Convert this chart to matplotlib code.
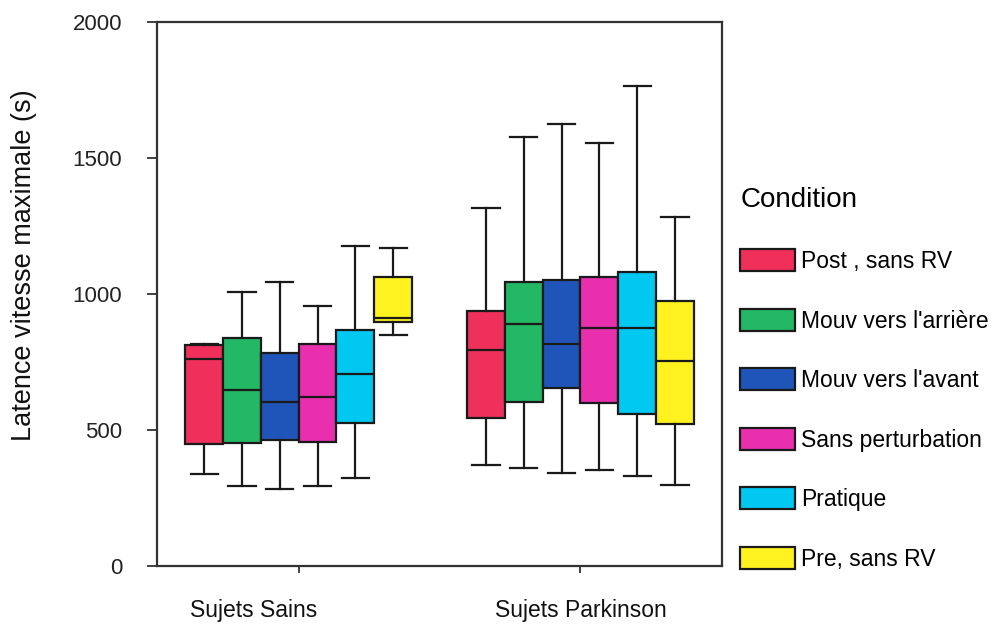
import matplotlib
matplotlib.use("Agg")
import matplotlib.pyplot as plt
import numpy as np
from matplotlib.patches import Patch

plt.rcParams['font.family'] = ['Liberation Sans', 'DejaVu Sans']

# conditions and colours
conditions = ["Post , sans RV", "Mouv vers l'arrière", "Mouv vers l'avant",
              "Sans perturbation", "Pratique", "Pre, sans RV"]
colors = ["#EF305A", "#22B865", "#1F55B8", "#E82FAE", "#00C8F0", "#FFF21E"]
groups = ["Sujets Sains", "Sujets Parkinson"]

# box stats, Sujets Sains
sains_lo = [338, 294, 283, 294, 323, 849]
sains_q1 = [448, 452, 463, 456, 526, 897]
sains_med = [761, 647, 603, 621, 706, 911]
sains_q3 = [812, 838, 783, 816, 867, 1062]
sains_hi = [818, 1007, 1044, 956, 1176, 1169]

# Sujets Parkinson
park_lo = [371, 360, 342, 353, 331, 298]
park_q1 = [544, 603, 654, 599, 559, 522]
park_med = [794, 890, 816, 875, 875, 754]
park_q3 = [937, 1044, 1051, 1062, 1081, 974]
park_hi = [1316, 1577, 1625, 1555, 1765, 1283]


def make_stats(lo, q1, med, q3, hi):
    return [dict(whislo=a, q1=b, med=c, q3=d, whishi=e, fliers=[])
            for a, b, c, d, e in zip(lo, q1, med, q3, hi)]


fig = plt.figure(figsize=(9.99, 6.27), dpi=100)
ax = fig.add_axes([0.157, 0.097, 0.566, 0.868])

starts = [1.25, 8.7]
all_stats = [make_stats(sains_lo, sains_q1, sains_med, sains_q3, sains_hi),
             make_stats(park_lo, park_q1, park_med, park_q3, park_hi)]

line_col = "#1a1a1a"
for start, stats in zip(starts, all_stats):
    pos = start + np.arange(len(stats))
    bp = ax.bxp(stats, positions=pos, widths=1.0, capwidths=0.72,
                patch_artist=True, showfliers=False,
                boxprops=dict(edgecolor=line_col, linewidth=1.6),
                medianprops=dict(color=line_col, linewidth=1.6),
                whiskerprops=dict(color=line_col, linewidth=1.6),
                capprops=dict(color=line_col, linewidth=1.6))
    for patch, c in zip(bp['boxes'], colors):
        patch.set_facecolor(c)

ax.set_xlim(0, 14.95)
ax.set_ylim(0, 2000)
ax.set_yticks([0, 500, 1000, 1500, 2000])
ax.tick_params(axis='y', direction='out', length=7, width=1.3, pad=18,
               labelsize=16, colors='#333333', labelcolor='#222222')
centers = [s + 2.5 for s in starts]
ax.set_xticks(centers)
ax.set_xticklabels([])
ax.tick_params(axis='x', direction='out', length=5, width=1.3, colors='#333333')
for sp in ax.spines.values():
    sp.set_color('#333333')
    sp.set_linewidth(1.6)

# group labels (the left one sits off its tick in the original)
label_x = [2.57, centers[1]]
for x, g in zip(label_x, groups):
    ax.text(x, -0.081, g, transform=ax.get_xaxis_transform(),
            ha='center', va='center', fontsize=16.5, color='#111111')

ax.set_ylabel("Latence vitesse maximale (s)", fontsize=19.5, color='#111111')
ax.yaxis.set_label_coords(-0.212, 0.553)

handles = [Patch(facecolor=c, edgecolor=line_col, linewidth=1.6) for c in colors]
leg = fig.legend(handles, conditions, title="Condition", loc='upper left',
                 bbox_to_anchor=(0.741, 0.701), frameon=False, fontsize=16.5,
                 title_fontsize=20, handlelength=2.4, handleheight=1.1,
                 handletextpad=0.25, labelspacing=1.56, borderpad=0,
                 borderaxespad=0, alignment='left')

fig.savefig("out.png", dpi=100)
